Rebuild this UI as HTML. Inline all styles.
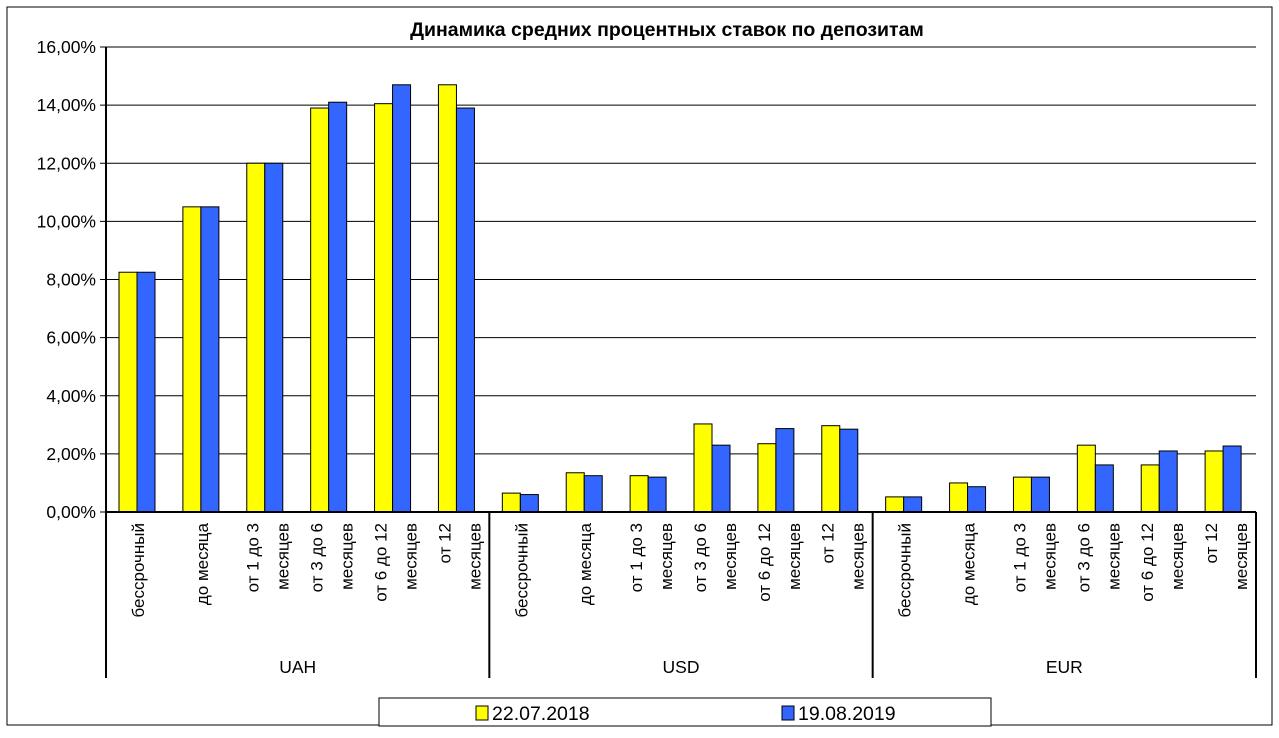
<!DOCTYPE html>
<html><head><meta charset="utf-8"><style>
body{margin:0;background:#fff;}
svg text{font-family:"Liberation Sans",sans-serif;}
</style></head><body>
<svg id="c" width="1279" height="733" xmlns="http://www.w3.org/2000/svg">
<rect x="7" y="7" width="1265" height="718" fill="#fff" stroke="#000" stroke-width="1"/>
<text x="667" y="36" font-size="19.5" font-weight="bold" text-anchor="middle">Динамика средних процентных ставок по депозитам</text>
<g id="grid"></g><g id="bars"></g><g id="axes"></g>
<g>
<rect x="379" y="698" width="612" height="28" fill="#fff" stroke="#000"/>
<rect x="476" y="706" width="12" height="14" fill="#ffff00" stroke="#000"/>
<text x="492" y="720" font-size="19.5">22.07.2018</text>
<rect x="782" y="706" width="12" height="14" fill="#3366ff" stroke="#000"/>
<text x="798" y="720" font-size="19.5">19.08.2019</text>
</g>
</svg>
<script>
const groups=["UAH","USD","EUR"];
const categories=[["бессрочный"],["до месяца"],["от 1 до 3","месяцев"],["от 3 до 6","месяцев"],["от 6 до 12","месяцев"],["от 12","месяцев"]];
const series2018=[8.25,10.5,12.0,13.9,14.05,14.7, 0.65,1.35,1.25,3.03,2.35,2.97, 0.52,1.0,1.2,2.3,1.62,2.1];
const series2019=[8.25,10.5,12.0,14.1,14.7,13.9, 0.6,1.25,1.2,2.3,2.87,2.85, 0.52,0.87,1.2,1.62,2.1,2.27];
const ticks=[0,2,4,6,8,10,12,14,16];
const tickLabels=["0,00%","2,00%","4,00%","6,00%","8,00%","10,00%","12,00%","14,00%","16,00%"];
const NS="http://www.w3.org/2000/svg";
const X0=106,X1=1256,Y0=512,Y1=47;
const n=series2018.length, cw=(X1-X0)/n;
const y=v=>Y0-(v/16)*(Y0-Y1);
const x=i=>X0+i*cw;
function mk(t,a,p){const e=document.createElementNS(NS,t);for(const k in a)e.setAttribute(k,a[k]);p.appendChild(e);return e;}
const G=document.getElementById('grid'),B=document.getElementById('bars'),A=document.getElementById('axes');
ticks.forEach((t,i)=>{
 const l=mk('line',{x1:X0,x2:X1,y1:y(t),y2:y(t),stroke:'#000','stroke-width':1},G);
 
 
 mk('line',{x1:X0-6,x2:X0,y1:y(t),y2:y(t),stroke:'#000'},A);
 const tx=mk('text',{x:X0-10,y:y(t)+6,'font-size':17.5,'text-anchor':'end'},A);
 tx.textContent=tickLabels[i];
 
 
});
for(let i=0;i<n;i++){
 const bx=x(i)+13;
 const r1=mk('rect',{x:bx,y:y(series2018[i]),width:18,height:Y0-y(series2018[i]),fill:'#ffff00',stroke:'#000','stroke-width':1},B);
 
 
 const r2=mk('rect',{x:bx+18,y:y(series2019[i]),width:18,height:Y0-y(series2019[i]),fill:'#3366ff',stroke:'#000','stroke-width':1},B);
 
 
 const lines=categories[i%6];
 const cx=x(i)+cw/2;
 lines.forEach((s,j)=>{
  const lx=cx+(lines.length===1?6:(j===0?-7:23));
  const t=mk('text',{x:0,y:0,'font-size':17,'text-anchor':'end',transform:`translate(${lx},${Y0+11}) rotate(-90)`},A);
  t.textContent=s;
  
  
 });
}
mk('line',{x1:X0,x2:X0,y1:Y1,y2:678,stroke:'#000','stroke-width':2},A);
mk('line',{x1:X0,x2:X1,y1:Y0,y2:Y0,stroke:'#000','stroke-width':2},A);
groups.forEach((g,k)=>{
 const gx=X0+(k+1)*6*cw;
 mk('line',{x1:gx,x2:gx,y1:Y0,y2:678,stroke:'#000','stroke-width':2},A);
 const t=mk('text',{x:X0+(k*6+3)*cw,y:673,'font-size':17.5,'text-anchor':'middle'},A);
 t.textContent=g;
 
 
});
</script>
</body></html>
